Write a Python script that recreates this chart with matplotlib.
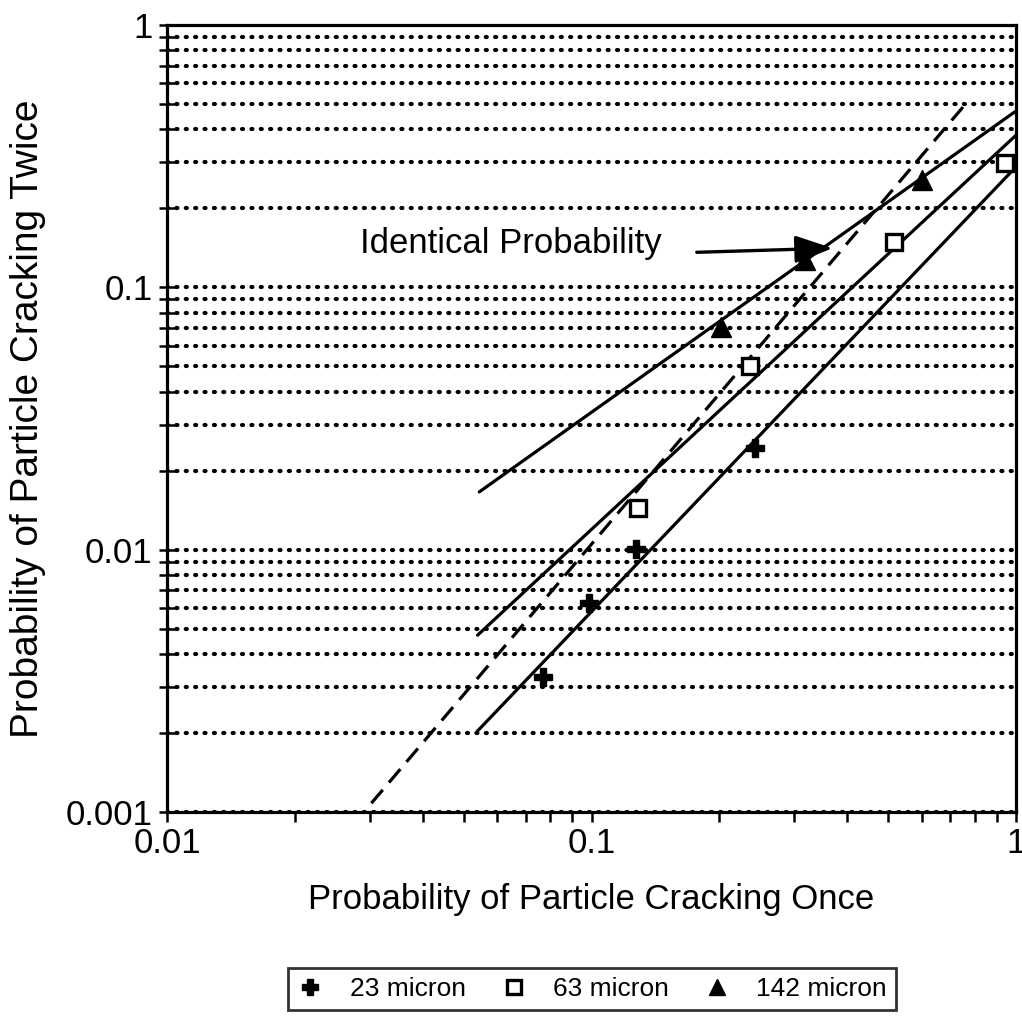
import matplotlib
matplotlib.use("Agg")
import matplotlib.pyplot as plt
from matplotlib.ticker import LogLocator, FixedLocator, NullFormatter, FixedFormatter

plt.rcParams['font.family'] = ['Liberation Sans', 'DejaVu Sans']

# ---- data ----
x23 = [0.077, 0.0986, 0.127, 0.243]
y23 = [0.00327, 0.00626, 0.0101, 0.0244]

x63 = [0.129, 0.236, 0.516, 0.94]
y63 = [0.0144, 0.0501, 0.149, 0.298]

x142 = [0.202, 0.318, 0.601]
y142 = [0.0706, 0.127, 0.256]

fit23_x = [0.0538, 1.0]
fit23_y = [0.00203, 0.288]
fit63_x = [0.0539, 1.0]
fit63_y = [0.00472, 0.38]
fit142_x = [0.0544, 1.0]
fit142_y = [0.0166, 0.47]
ident_x = [0.0303, 0.764]
ident_y = [0.00108, 0.504]

series_labels = ['23 micron', '63 micron', '142 micron']
xtick_vals = [0.01, 0.1, 1]
xtick_labels = ['0.01', '0.1', '1']
ytick_vals = [0.001, 0.01, 0.1, 1]
ytick_labels = ['0.001', '0.01', '0.1', '1']

W, H = 1022, 1028
fig = plt.figure(figsize=(W / 100, H / 100), dpi=100)
L, R, T, B = 167, 1016, 25, 812
ax = fig.add_axes([L / W, 1 - B / H, (R - L) / W, (B - T) / H])
ax.set_xscale('log')
ax.set_yscale('log')
ax.set_xlim(0.01, 1)
ax.set_ylim(0.001, 1)

# grid: dotted horizontal lines at every y tick
ax.yaxis.grid(True, which='both', color='black', linewidth=3.0,
              linestyle=(0, (0.25, 2.0)), dash_capstyle='round', zorder=1)
ax.xaxis.grid(False, which='both')
ax.set_axisbelow(True)

lw = 2.3
ax.plot(fit23_x, fit23_y, color='black', lw=lw, zorder=3, solid_capstyle='round')
ax.plot(fit63_x, fit63_y, color='black', lw=lw, zorder=3, solid_capstyle='round')
ax.plot(fit142_x, fit142_y, color='black', lw=lw, zorder=3, solid_capstyle='round')
ax.plot(ident_x, ident_y, color='black', lw=lw, linestyle=(0, (5.5, 3.0)), zorder=3)

h1, = ax.plot(x23, y23, linestyle='none', marker='P', markersize=13,
              color='black', zorder=4, label=series_labels[0])
h2, = ax.plot(x63, y63, linestyle='none', marker='s', markersize=11.5,
              markerfacecolor='white', markeredgecolor='black', markeredgewidth=2.4,
              zorder=4, label=series_labels[1], clip_on=False)
h3, = ax.plot(x142, y142, linestyle='none', marker='^', markersize=14,
              color='black', zorder=4, label=series_labels[2])

# annotation
ax.annotate('', xy=(0.370, 0.141), xytext=(0.177, 0.136),
            arrowprops=dict(arrowstyle='-|>,head_length=1.15,head_width=0.42',
                            mutation_scale=20, color='black', lw=2.4,
                            shrinkA=0, shrinkB=0), zorder=5)
ax.text(0.0285, 0.135, 'Identical Probability', fontsize=25, ha='left',
        va='baseline', color='black', zorder=5)

# spines
for s in ax.spines.values():
    s.set_linewidth(2.3)
    s.set_color('black')

# ticks
ax.xaxis.set_major_locator(FixedLocator(xtick_vals))
ax.xaxis.set_major_formatter(FixedFormatter(xtick_labels))
ax.xaxis.set_minor_locator(LogLocator(base=10, subs=range(2, 10)))
ax.xaxis.set_minor_formatter(NullFormatter())
ax.yaxis.set_major_locator(FixedLocator(ytick_vals))
ax.yaxis.set_major_formatter(FixedFormatter(ytick_labels))
ax.yaxis.set_minor_locator(LogLocator(base=10, subs=range(2, 10)))
ax.yaxis.set_minor_formatter(NullFormatter())

ax.tick_params(axis='x', which='both', direction='out', length=7, width=1.8,
               top=False, labelsize=25, pad=4)
ax.tick_params(axis='y', which='both', direction='inout', length=11, width=1.8,
               right=False, labelsize=25, pad=5)

ax.set_xlabel('Probability of Particle Cracking Once', fontsize=25, labelpad=16)
ax.set_ylabel('Probability of Particle Cracking Twice', fontsize=28, labelpad=14)

leg = fig.legend(handles=[h1, h2, h3], labels=series_labels, ncol=3,
                 loc='upper center', bbox_to_anchor=(592 / W, 1 - 968 / H),
                 bbox_transform=fig.transFigure, borderaxespad=0,
                 frameon=True, fancybox=False,
                 edgecolor='black', fontsize=19, handlelength=1.0,
                 handletextpad=1.0, columnspacing=1.3, borderpad=0.35,
                 markerscale=0.85)
leg.get_frame().set_linewidth(2.0)

fig.savefig('out.png', dpi=100)
